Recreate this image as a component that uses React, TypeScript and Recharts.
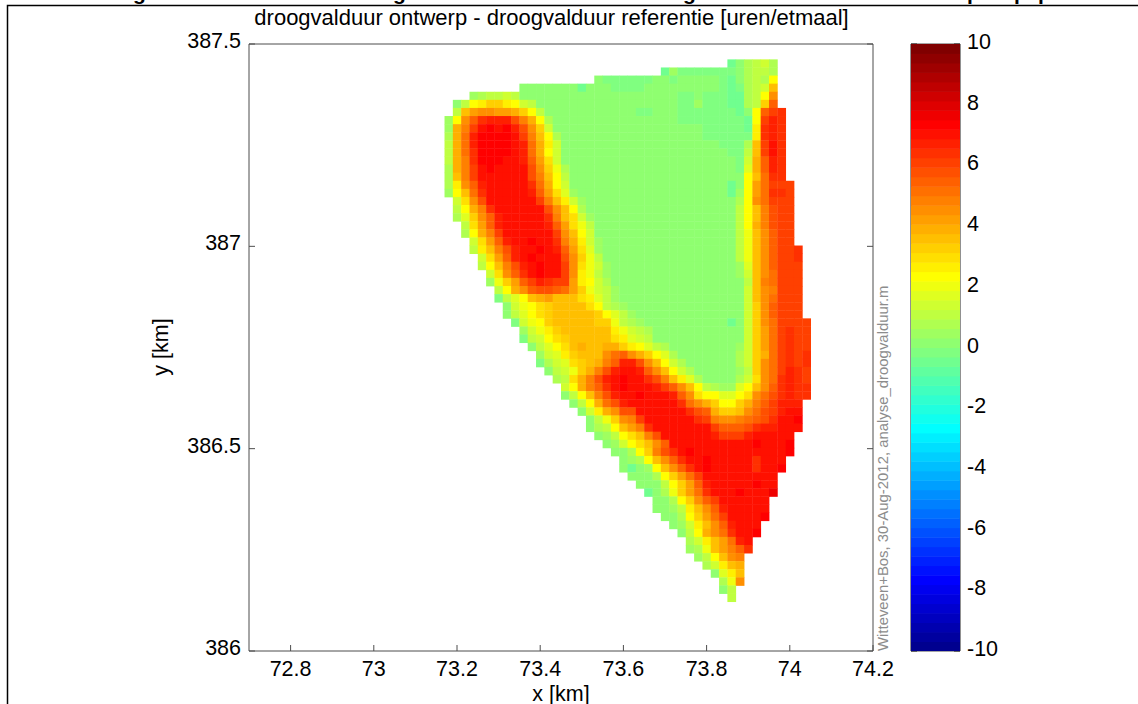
import { ScatterChart, Scatter, XAxis, YAxis } from "recharts";

// droogvalduur difference per grid cell, one letter per cell, see cellValues
const rowStart = [
  34, 26, 18, 9, 3, 1, 1, 0, 0, 0, 0, 0, 0, 0, 0, 0, 0, 1, 1, 1, 2, 2, 3, 3, 4, 4, 5, 5, 6, 6, 7, 7, 8, 9, 9, 10,
  11, 11, 12, 13, 14, 14, 15, 16, 17, 17, 18, 19, 20, 21, 21, 22, 23, 24, 25, 25, 26, 27, 28, 29, 29, 30, 31, 32, 33, 33, 34,
];
const rowEnd = [
  39, 39, 39, 39, 39, 39, 40, 40, 40, 40, 40, 40, 40, 40, 40, 41, 41, 41, 41, 41, 41, 41, 41, 42, 42, 42, 42, 42, 42, 42, 42, 42, 43, 43, 43, 43,
  43, 43, 43, 43, 43, 43, 42, 42, 42, 42, 41, 41, 41, 40, 40, 39, 39, 39, 38, 38, 38, 37, 37, 36, 36, 35, 35, 35, 35, 34, 34,
];
// "left fill right": fill repeats to close the gap between the two ends
const rowCells = [
  "ace c fge",
  "ad b ceffe",
  "cbbbbbbccbcc c bacefej",
  "cccccccacccbbbb c babefgn",
  "deffgf c bbcbbbaaefjq",
  "cfjkmmkjgf c bbdbbbaaefmt",
  "fnpqqppomjfcccccccccccbb c bbbbbbbacjtvw",
  "djqtwxxxuroje c bbbbbbbbajvxw",
  "dorvyzyzxuqmg c bbbbbakwxw",
  "eosxzzzzyvrnje c bbbbbbkwxw",
  "fosxzzzzyxsokg c bbbenvyw",
  "foswzzzzyxsojg c bbfnvyw",
  "forwzzzyyxtplg c bgotxw",
  "eorvyzyyyyuqmie c bhotxw",
  "enrvyyyyyyurnjf c cjnsww",
  "ekqtxyyyyywsojg c acjpsvvv",
  "djnswyyyyyxtplhd c adjpswwv",
  "glquyyyyyyvrnkgd c ejqsvvv",
  "fjorwyyyyyyuqnje c fjnruvv",
  "ehmqtxyyyyywrnlgd c fjnruvv",
  "flptxyyyyyxtplif c fjoruvv",
  "ejorvyyyyyyvqnjg c finqtvv",
  "glptxyyzyywrokgd c finqtvv",
  "fknruxyyzyxtplhd c finqtvvw",
  "glptxyzyyyuqmif c finqtvvw",
  "fjnruxyzyyvqligd c dhnqtvvv",
  "glqtwyzyyvqkifd c dgnqsvvv",
  "dimptvxwvvpkjge c cfnrsvvv",
  "fjoqtuutspmigfd c gnqrvvv",
  "bfhjnopnnnlkhfd c gnqsvvv",
  "cgijlmnnnnljfed c gmqtvvv",
  "cfhjlmnnnnnmjhfd c gmqtvvv",
  "bgijmnnnnnmmifed c acgmqsvvvv",
  "dgikmnnnnnnkigfe c cgmpsvwvv",
  "bfgjlmnnnnnlkhgf c cgmpsvwvv",
  "cfhjlnonnoomkjhfe c dgmpsvwvv",
  "dghkmnnnqstqomjhe c egmosvwvw",
  "beghlmnortxxuqnjge c egmqsvwvw",
  "cfgimoruxyyxtqnjge c dfmqsvxwv",
  "efloruxyzyywurnkhe c eglqswxwv",
  "gjortwyzyyyxvtqnjfe d dhjnqtwxww",
  "cfjnruxyyzyyyxtq y ljjhhjlqsuwxww",
  "cfjosuxy y ywsqomjjmortvxxx",
  "cgkoquuy y wutommnqsuvxyy",
  "cfimqrvy y wvrqqrstuwyyz",
  "cefjnprw y yvtttuwxxyyy",
  "cdfjlnruy y xvvvxyyyyy",
  "cdgjlnqty y yyyzyyyz",
  "ccejmruwyz y yyz",
  "cdejnqtwyyzy y ywyyy",
  "cacdjnqtwyzyy y ywyyz",
  "cccejmpsvy y y",
  "cccfjmptxy y zyy",
  "aceimpswy y zyyyA",
  "ccejmqtvy y y",
  "ccdfknqtxy y y",
  "ccejmpsvy y yz",
  "cdgknqtx y yy",
  "cfjoqsw y yyz",
  "egknps y xy",
  "deinpr y tw",
  "dfj y nqr",
  "eg y kno",
  "ch y kn",
  "e y iq",
  "c y f",
  "f y f",
];
const cellValues: Record<string, number> = {
  a: -0.5, b: -0.15, c: 0.15, d: 0.5, e: 0.8, f: 1.1, g: 1.4, h: 1.7, i: 2.0, j: 2.35, k: 2.65, l: 3.0, m: 3.3,
  n: 3.6, o: 3.9, p: 4.2, q: 4.5, r: 4.8, s: 5.1, t: 5.4, u: 5.8, v: 6.1, w: 6.4, x: 6.7, y: 7.0, z: 7.35, A: 7.65,
};

const xTicks = [72.8, 73, 73.2, 73.4, 73.6, 73.8, 74, 74.2];
const yTicks = [386, 386.5, 387, 387.5];
const barTicks = [-10, -8, -6, -4, -2, 0, 2, 4, 6, 8, 10];
const clippedTitle = [
  { ch: "g", x: 133 },
  { ch: "g", x: 393 },
  { ch: "g", x: 683 },
  { ch: "p", x: 967 },
  { ch: "p", x: 1014 },
  { ch: "p", x: 1038 },
];

const plotW = 624;
const plotH = 607;
const cellW = (plotW * 0.02) / 1.5;
const cellH = (plotH * 0.02) / 1.5;
const font = "'Liberation Sans', Arial, sans-serif";
const axisColor = "#4d4d4d";

function clamp(n: number) {
  return Math.max(0, Math.min(1, n));
}

// matlab jet(64)
function jet(v: number) {
  const n = Math.min(64, Math.floor(((v + 10) / 20) * 64) + 1);
  const r = n <= 56 ? clamp((n - 24) / 16) : 1 - (n - 56) / 16;
  const g = n <= 24 ? clamp((n - 8) / 16) : n <= 40 ? 1 : clamp(1 - (n - 40) / 16);
  const b = n <= 8 ? 0.5 + n / 16 : n <= 24 ? 1 : clamp(1 - (n - 24) / 16);
  return `rgb(${Math.round(r * 255)},${Math.round(g * 255)},${Math.round(b * 255)})`;
}

const cells: { x: number; y: number; v: number }[] = [];
rowCells.forEach((row, j) => {
  const [left, fill, right] = row.split(" ");
  const count = rowEnd[j] - rowStart[j] + 1;
  const gap = Math.max(0, count - left.length - right.length);
  let text = left + fill.repeat(gap) + right;
  if (rowStart[j] === rowEnd[j]) text = left;
  text.split("").forEach((ch, i) => {
    cells.push({
      x: 73.18 + (rowStart[j] + i) * 0.02,
      y: 387.452 - j * 0.02,
      v: cellValues[ch],
    });
  });
});

// one entry per colour of the 64 step colorbar
const barLevels = Array.from({ length: 64 }, (_, k) => ({
  x: 0.5,
  y: -10 + ((k + 0.5) * 20) / 64,
}));

function CellShape(props: any) {
  return (
    <rect
      x={props.cx - cellW / 2}
      y={props.cy - cellH / 2}
      width={cellW + 0.4}
      height={cellH + 0.4}
      fill={jet(props.payload.v)}
    />
  );
}

function BarShape(props: any) {
  const h = plotH / 64;
  return <rect x={31} y={props.cy - h / 2} width={49} height={h + 0.5} fill={jet(props.payload.y)} />;
}

function NoLabel() {
  return <g />;
}

function XTick(props: any) {
  return (
    <text x={props.x} y={676} textAnchor="middle" fontSize={21.5} fontFamily={font} fill="#000">
      {props.payload.value}
    </text>
  );
}

function YTick(props: any) {
  return (
    <text x={241} y={props.y + 4} textAnchor="end" fontSize={21.5} fontFamily={font} fill="#000">
      {props.payload.value}
    </text>
  );
}

function BarTick(props: any) {
  return (
    <text x={87} y={props.y + 5} textAnchor="start" fontSize={21.5} fontFamily={font} fill="#000">
      {props.payload.value}
    </text>
  );
}

export default function App() {
  return (
    <div style={{ position: "absolute", left: 0, top: 0, width: 1138, height: 704, background: "#fff", overflow: "hidden" }}>
      <div style={{ position: "absolute", left: 0, top: 0 }}>
        <ScatterChart width={900} height={704} margin={{ left: 0, top: 43, right: 26, bottom: 0 }}>
          <XAxis
            xAxisId="bottom"
            dataKey="x"
            type="number"
            domain={[72.7, 74.2]}
            ticks={xTicks}
            allowDataOverflow
            height={53}
            tickSize={-6}
            stroke={axisColor}
            tick={<XTick />}
          />
          <XAxis
            xAxisId="top"
            orientation="top"
            type="number"
            domain={[72.7, 74.2]}
            ticks={xTicks}
            allowDataOverflow
            height={1}
            tickSize={-6}
            stroke={axisColor}
            tick={<NoLabel />}
          />
          <YAxis
            yAxisId="left"
            dataKey="y"
            type="number"
            domain={[386, 387.5]}
            ticks={yTicks}
            allowDataOverflow
            width={249}
            tickSize={-6}
            stroke={axisColor}
            tick={<YTick />}
          />
          <YAxis
            yAxisId="right"
            orientation="right"
            type="number"
            domain={[386, 387.5]}
            ticks={yTicks}
            allowDataOverflow
            width={1}
            tickSize={-6}
            stroke={axisColor}
            tick={<NoLabel />}
          />
          <Scatter
            data={cells}
            xAxisId="bottom"
            yAxisId="left"
            shape={<CellShape />}
            isAnimationActive={false}
          />
        </ScatterChart>
      </div>

      <div style={{ position: "absolute", left: 880, top: 0 }}>
        <ScatterChart width={258} height={704} margin={{ left: 0, top: 43, right: 0, bottom: 0 }}>
          <Scatter
            data={barLevels}
            xAxisId="b"
            yAxisId="l"
            shape={<BarShape />}
            isAnimationActive={false}
          />
          <XAxis xAxisId="b" dataKey="x" type="number" domain={[0, 1]} ticks={[]} height={53} stroke={axisColor} />
          <XAxis xAxisId="t" orientation="top" type="number" domain={[0, 1]} ticks={[]} height={1} stroke={axisColor} />
          <YAxis
            yAxisId="l"
            dataKey="y"
            type="number"
            domain={[-10, 10]}
            ticks={barTicks}
            allowDataOverflow
            width={31}
            tickSize={-6}
            stroke="#222"
            tick={<NoLabel />}
          />
          <YAxis
            yAxisId="r"
            orientation="right"
            type="number"
            domain={[-10, 10]}
            ticks={barTicks}
            allowDataOverflow
            width={178}
            tickSize={-6}
            stroke="#222"
            tick={<BarTick />}
          />
        </ScatterChart>
      </div>

      <svg width={1138} height={704} style={{ position: "absolute", left: 0, top: 0, pointerEvents: "none" }}>
        <path d="M7.5 704 L7.5 5.5 L1138 5.5" fill="none" stroke="#000" strokeWidth={1.5} />
        {clippedTitle.map((t) => (
          <text key={t.x} x={t.x} y={0} fontSize={21} fontWeight="bold" fontFamily={font} fill="#000">
            {t.ch}
          </text>
        ))}
        <text x={551.5} y={25} textAnchor="middle" fontSize={22} fontFamily={font} fill="#000">
          droogvalduur ontwerp - droogvalduur referentie [uren/etmaal]
        </text>
        <text x={561} y={701} textAnchor="middle" fontSize={21.5} fontFamily={font} fill="#000">
          x [km]
        </text>
        <text transform="translate(168,347) rotate(-90)" textAnchor="middle" fontSize={21.5} fontFamily={font} fill="#000">
          y [km]
        </text>
        <text transform="translate(888,651) rotate(-90)" fontSize={14.9} fontFamily={font} fill="#8c8c8c">
          Witteveen+Bos, 30-Aug-2012, analyse_droogvalduur.m
        </text>
      </svg>
    </div>
  );
}
